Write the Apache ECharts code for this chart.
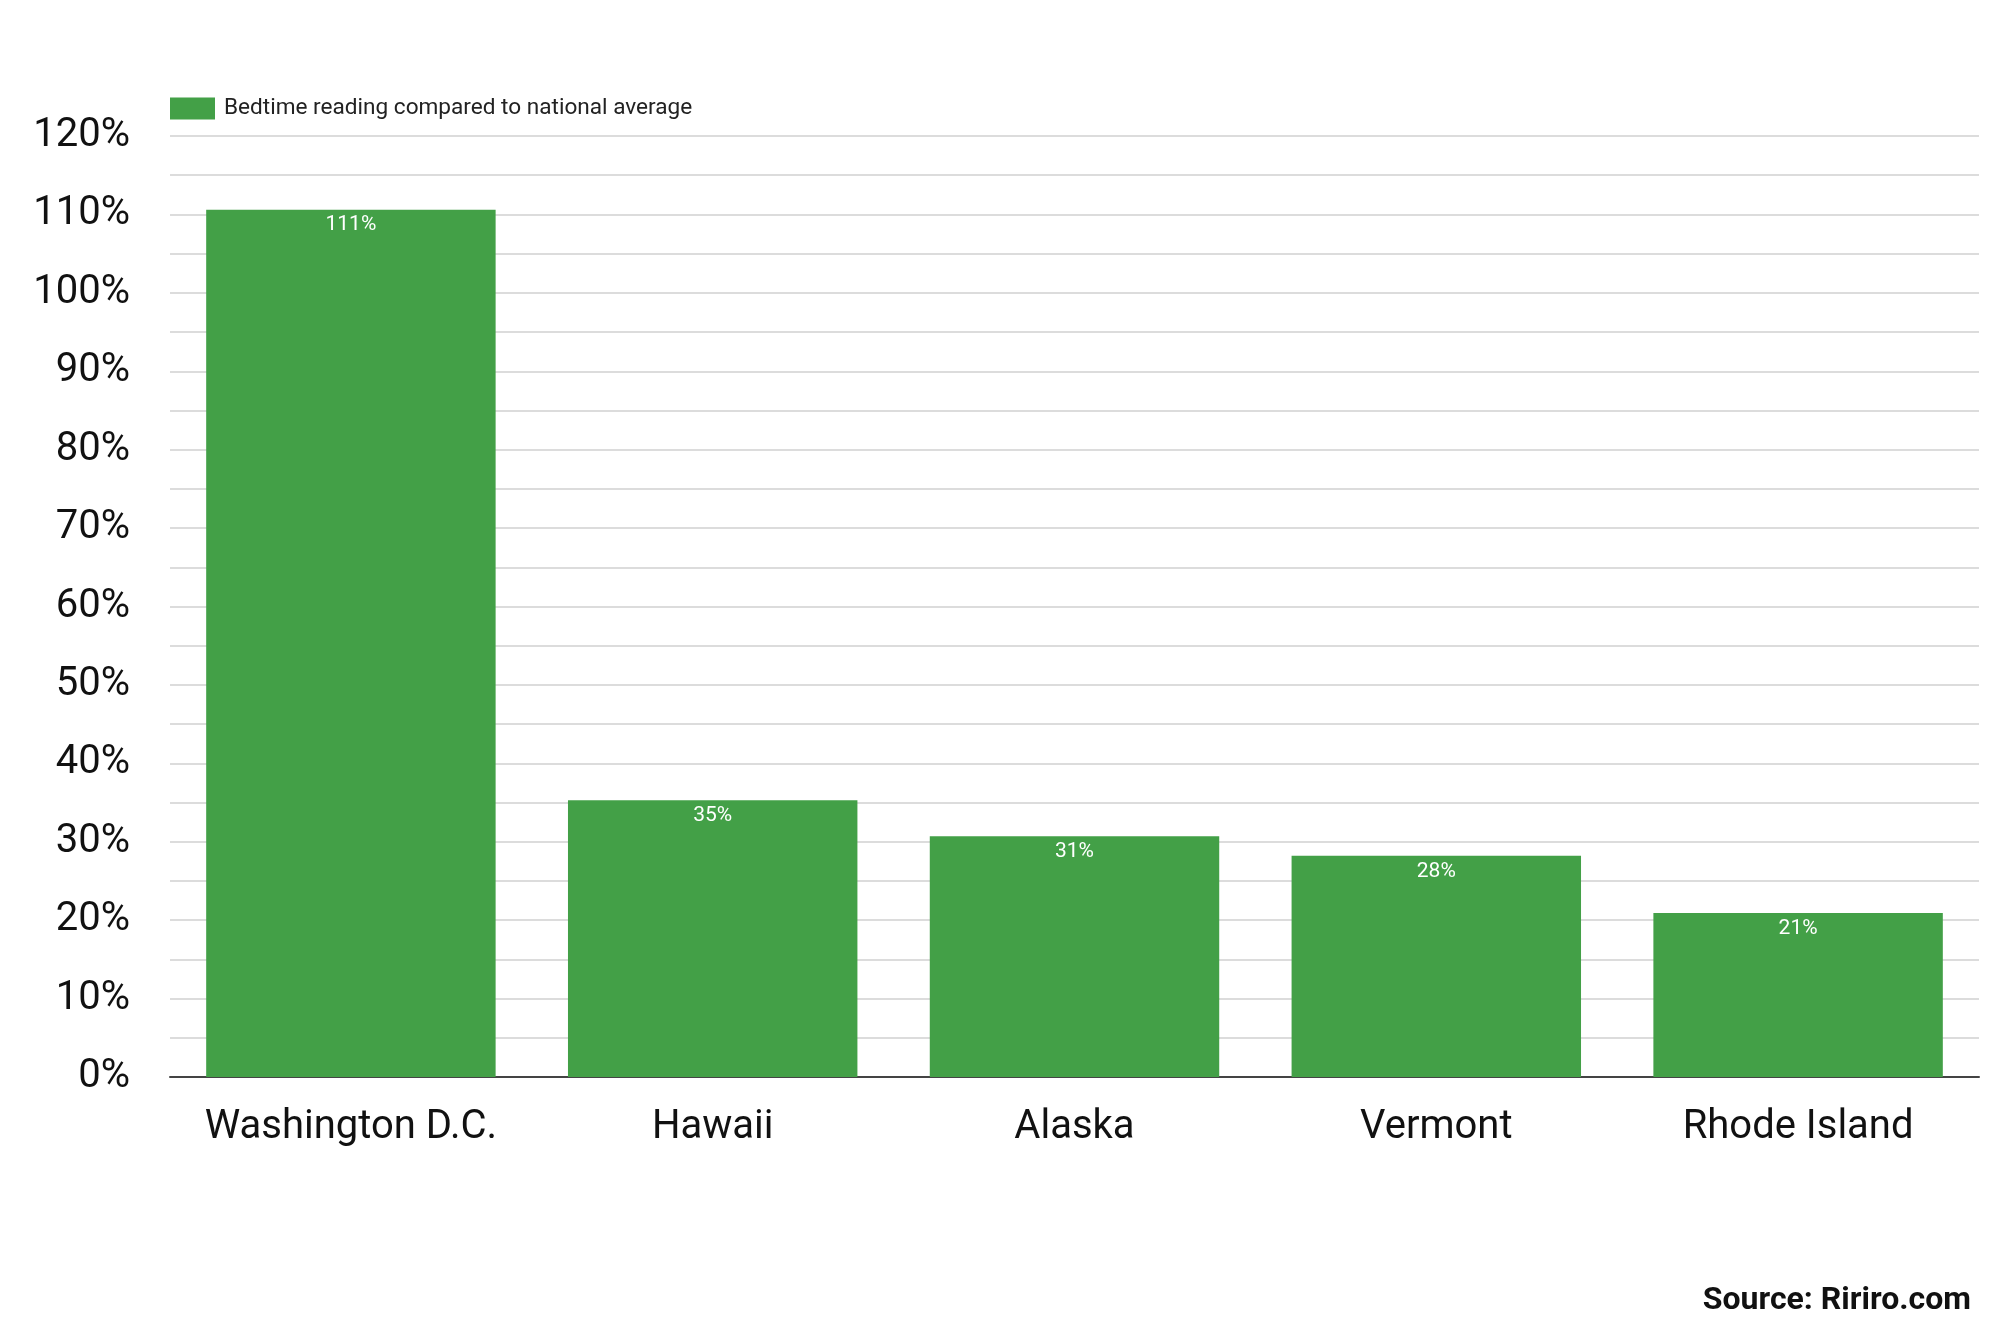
<!DOCTYPE html>
<html><head><meta charset="utf-8">
<script src="https://cdn.jsdelivr.net/npm/echarts@6/dist/echarts.min.js"></script>
<style>html,body{margin:0;padding:0;background:#fff}#c{width:2008px;height:1340px}</style>
</head><body><div id="c"></div>
<script>
const categories = ['Washington D.C.', 'Hawaii', 'Alaska', 'Vermont', 'Rhode Island'];
const seriesName = 'Bedtime reading compared to national average';
const values = [110.6, 35.3, 30.7, 28.2, 20.9];
const sourceText = 'Source: Ririro.com';

const chart = echarts.init(document.getElementById('c'));
chart.setOption({
  backgroundColor: '#ffffff',
  textStyle: { fontFamily: 'Roboto' },
  legend: {
    left: 170, top: 97, padding: 0, itemWidth: 45, itemHeight: 22, itemGap: 10,
    icon: 'rect',
    textStyle: { fontSize: 22.6, color: '#222', fontFamily: 'Roboto', padding: [0, 0, 0, 4] },
    data: [seriesName]
  },
  grid: { left: 170, right: 29, top: 136, bottom: 263 },
  xAxis: {
    type: 'category', data: categories,
    axisLine: { lineStyle: { color: '#444', width: 2 } },
    axisTick: { show: false },
    axisLabel: { interval: 0, fontSize: 40, color: '#111', margin: 31, fontFamily: 'Roboto' }
  },
  yAxis: {
    type: 'value', min: 0, max: 120, interval: 5,
    axisLine: { show: false }, axisTick: { show: false },
    splitLine: { lineStyle: { color: '#dcdcdc', width: 2 } },
    axisLabel: {
      fontSize: 40, color: '#111', margin: 40, fontFamily: 'Roboto', padding: [6, 0, 0, 0],
      formatter: v => (v % 10 === 0 ? v + '%' : '')
    }
  },
  series: [{
    name: seriesName, type: 'bar', data: values,
    barCategoryGap: '20%',
    itemStyle: { color: '#43a047' },
    label: {
      show: true, position: 'insideTop', distance: 5, color: '#fff', fontSize: 21,
      fontFamily: 'Roboto',
      formatter: p => Math.round(p.value) + '%'
    }
  }],
  graphic: [{
    type: 'text', right: 37, top: 1285,
    style: { text: sourceText, font: 'bold 32px Roboto', fill: '#111' }
  }]
});
</script></body></html>
